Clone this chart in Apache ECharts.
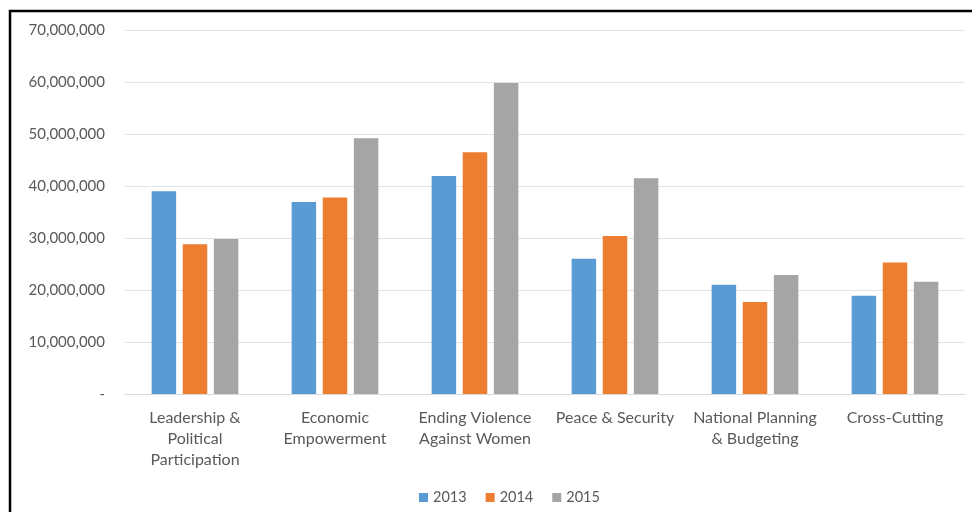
<!DOCTYPE html>
<html>
<head>
<meta charset="utf-8">
<script src="https://cdn.jsdelivr.net/npm/echarts@6/dist/echarts.min.js"></script>
<style>html,body{margin:0;padding:0;background:#fff;}#c{width:972px;height:512px;}</style>
</head>
<body>
<div id="c"></div>
<script>
var categories = ["Leadership &\nPolitical\nParticipation", "Economic\nEmpowerment", "Ending Violence\nAgainst Women", "Peace & Security", "National Planning\n& Budgeting", "Cross-Cutting"];
var s2013 = [39000000, 36900000, 41900000, 26000000, 21000000, 18900000];
var s2014 = [28800000, 37800000, 46500000, 30400000, 17700000, 25300000];
var s2015 = [29800000, 49200000, 59800000, 41500000, 22900000, 21600000];
var yTicks = [0, 10000000, 20000000, 30000000, 40000000, 50000000, 60000000, 70000000];

var chart = echarts.init(document.getElementById('c'));
var font = 'Lato, "Open Sans", sans-serif';
function bar(name, data, color) {
  return {name: name, type: 'bar', data: data, barWidth: 24.5, barGap: '27%',
    itemStyle: {color: color}};
}
chart.setOption({
  animation: false,
  textStyle: {fontFamily: font},
  grid: {left: 125, right: 7, top: 30, bottom: 118},
  legend: {
    top: 485, left: 414, itemWidth: 9, itemHeight: 9, itemGap: 19,
    icon: 'rect',
    textStyle: {color: '#595959', fontSize: 14.5, fontFamily: font},
    data: ['2013', '2014', '2015']
  },
  xAxis: {
    type: 'category', data: categories,
    axisLine: {lineStyle: {color: '#d9d9d9', width: 1}},
    axisTick: {show: false},
    axisLabel: {color: '#595959', fontSize: 16, lineHeight: 21, margin: 13, interval: 0, fontFamily: font}
  },
  yAxis: {
    type: 'value', min: yTicks[0], max: yTicks[yTicks.length - 1], interval: 10000000,
    axisLine: {show: false}, axisTick: {show: false},
    splitLine: {lineStyle: {color: '#e3e3e3', width: 1}},
    axisLabel: {color: '#595959', fontSize: 15, margin: 20, fontFamily: font,
      formatter: function (v) { return v === 0 ? '-' : v.toLocaleString('en-US'); }}
  },
  graphic: [{
    type: 'rect', silent: true, z: 100,
    shape: {x: 10, y: 11, width: 1200, height: 1000},
    style: {fill: 'none', stroke: '#000', lineWidth: 2.5}
  }],
  series: [bar('2013', s2013, '#5B9BD5'), bar('2014', s2014, '#ED7D31'), bar('2015', s2015, '#A5A5A5')]
});
</script>
</body>
</html>
